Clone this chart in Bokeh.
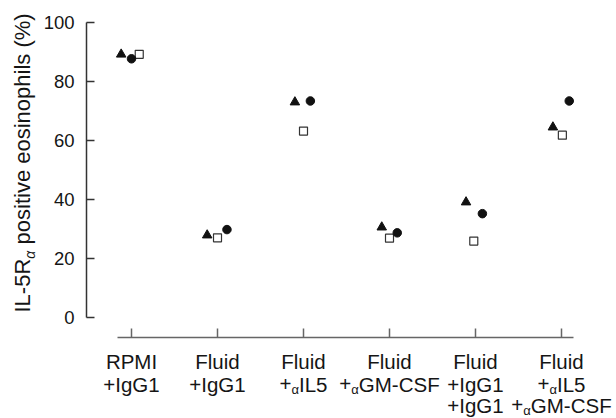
import math
from bokeh.plotting import figure
from bokeh.models import Range1d, FixedTicker, LinearAxis
from bokeh.embed import file_html
from bokeh.resources import INLINE

# ---------------- data ----------------
categories = [0, 1, 2, 3, 4, 5]
tick_labels = ["RPMI\n+IgG1", "Fluid\n+IgG1", "Fluid\n+αIL5", "Fluid\n+αGM-CSF",
               "Fluid\n+IgG1\n+IgG1", "Fluid\n+αIL5\n+αGM-CSF"]
triangle_vals = [89.2, 27.9, 73.0, 30.6, 39.1, 64.5]
circle_vals = [87.7, 29.8, 73.4, 28.7, 35.2, 73.4]
square_vals = [89.2, 27.0, 63.2, 26.9, 25.9, 61.8]
# small horizontal jitter of each series within a group (category units)
triangle_dx = [-0.12, -0.12, -0.10, -0.09, -0.11, -0.10]
circle_dx = [0.00, 0.11, 0.08, 0.09, 0.08, 0.09]
square_dx = [0.09, 0.00, 0.00, 0.00, -0.02, 0.01]
y_ticks = [0, 20, 40, 60, 80, 100]
y_label = "IL-5Rα positive eosinophils (%)"

# ---------------- layout (frame = whole canvas) ----------------
W, H = 616, 418
PX_X = 86.0          # pixels per category
X_ORIGIN = 131.0     # pixel of category 0
PX_Y = 2.95          # pixels per % unit
Y_ORIGIN = 317.0     # pixel of 0 %
X0, X1 = -X_ORIGIN / PX_X, (W - X_ORIGIN) / PX_X
Y0, Y1 = -(H - Y_ORIGIN) / PX_Y, Y_ORIGIN / PX_Y

FONT = "Liberation Sans"
TXT = "#151515"
MID = 0.35   # distance baseline -> text middle, in em


def sx(px):
    return (px - X_ORIGIN) / PX_X


def sy(py):
    return (Y_ORIGIN - py) / PX_Y


# Arial / Liberation Sans advance widths (per 1000 em)
AW = {' ': 278, '+': 584, '-': 333, '(': 333, ')': 333, '%': 889, '0': 556, '1': 556,
      '5': 556, 'F': 611, 'l': 222, 'u': 556, 'i': 222, 'd': 556, 'R': 722, 'P': 667,
      'M': 833, 'I': 278, 'g': 556, 'G': 778, 'L': 556, 'C': 722, 'S': 667, 'p': 556,
      'o': 556, 's': 500, 't': 278, 'v': 500, 'e': 556, 'n': 556, 'h': 556, 'α': 580}


def tw(s, size):
    return sum(AW.get(c, 556) for c in s) / 1000.0 * size


def segments(line):
    segs, cur = [], ""
    for c in line:
        if c == "α":
            if cur:
                segs.append((cur, False))
            segs.append(("α", True))
            cur = ""
        else:
            cur += c
    if cur:
        segs.append((cur, False))
    return segs


p = figure(width=W, height=H, x_range=Range1d(X0, X1), y_range=Range1d(Y0, Y1),
           output_backend="svg", toolbar_location=None,
           x_axis_type=None, y_axis_type=None, min_border=0,
           min_border_left=0, min_border_right=0, min_border_top=0, min_border_bottom=0)
p.outline_line_color = None
p.background_fill_color = "white"
p.border_fill_color = "white"

common = dict(major_tick_out=0, minor_tick_in=0, minor_tick_out=0,
              minor_tick_line_color=None, axis_line_width=1.5,
              major_tick_line_width=1.5, major_label_standoff=0,
              major_label_text_font_size="0px", axis_label_standoff=0)

xaxis = LinearAxis(ticker=FixedTicker(ticks=categories), bounds=(-0.16, 5.14),
                   fixed_location=sy(337), major_tick_in=9,
                   axis_line_color="#666666", major_tick_line_color="#666666",
                   major_label_overrides={c: "" for c in categories}, **common)
p.add_layout(xaxis, "below")

yaxis = LinearAxis(ticker=FixedTicker(ticks=y_ticks), bounds=(0, 100),
                   fixed_location=sx(86), major_tick_in=8,
                   axis_line_color="#333333", major_tick_line_color="#333333",
                   major_label_overrides={t: "" for t in y_ticks}, **common)
p.add_layout(yaxis, "left")

# y tick labels, placed through the y scale
p.text(x=[sx(86)] * len(y_ticks), y=y_ticks, text=[str(t) for t in y_ticks],
       x_offset=-12, text_align="right", text_baseline="middle",
       text_font={"value": FONT}, text_font_size="18.5px", text_color=TXT)

# ---------------- markers ----------------
p.scatter([c + d for c, d in zip(categories, triangle_dx)], triangle_vals,
          marker="triangle", size=9.5, fill_color="#111111", line_color="#111111")
p.scatter([c + d for c, d in zip(categories, square_dx)], square_vals,
          marker="square", size=8, fill_color="white", line_color="#333333", line_width=1.2)
p.scatter([c + d for c, d in zip(categories, circle_dx)], circle_vals,
          marker="circle", size=8.5, fill_color="#111111", line_color="#111111")

# ---------------- x tick labels (with subscript alpha) ----------------
MAIN, SUB = 20.5, 13
baselines = [368, 391, 412]
SUB_DROP = 2.5
main_seg = dict(x=[], y=[], xo=[], t=[])
sub_seg = dict(x=[], y=[], xo=[], t=[])
for c, lab in zip(categories, tick_labels):
    for li, line in enumerate(lab.split("\n")):
        segs = segments(line)
        total = sum(tw(s, SUB if sub else MAIN) for s, sub in segs)
        off = -total / 2.0
        for s, sub in segs:
            size = SUB if sub else MAIN
            d = sub_seg if sub else main_seg
            bl = baselines[li] + (SUB_DROP if sub else 0)
            d["x"].append(c)
            d["y"].append(sy(bl - MID * size))
            d["xo"].append(off)
            d["t"].append(s)
            off += tw(s, size)

for d, size in ((main_seg, MAIN), (sub_seg, SUB)):
    p.text(x=d["x"], y=d["y"], text=d["t"], x_offset=d["xo"],
           text_align="left", text_baseline="middle",
           text_font={"value": FONT}, text_font_size=f"{size}px", text_color=TXT)

# ---------------- y axis label (rotated, with subscript alpha) ----------------
YMAIN, YSUB = 22, 14
base_x = 30
pos = 312
for s, sub in segments(y_label):
    size = YSUB if sub else YMAIN
    bx = base_x + (4 if sub else 0) - MID * size
    lead = len(s) - len(s.lstrip(" "))
    pos -= tw(" " * lead, size)
    txt = s.lstrip(" ")
    p.text(x=[sx(bx)], y=[sy(pos)], text=[txt], angle=math.pi / 2,
           text_align="left", text_baseline="middle",
           text_font={"value": FONT}, text_font_size=f"{size}px", text_color=TXT,
           text_font_style="italic" if sub else "normal")
    pos -= tw(txt, size)

open("out.html", "w").write(file_html(p, INLINE))
